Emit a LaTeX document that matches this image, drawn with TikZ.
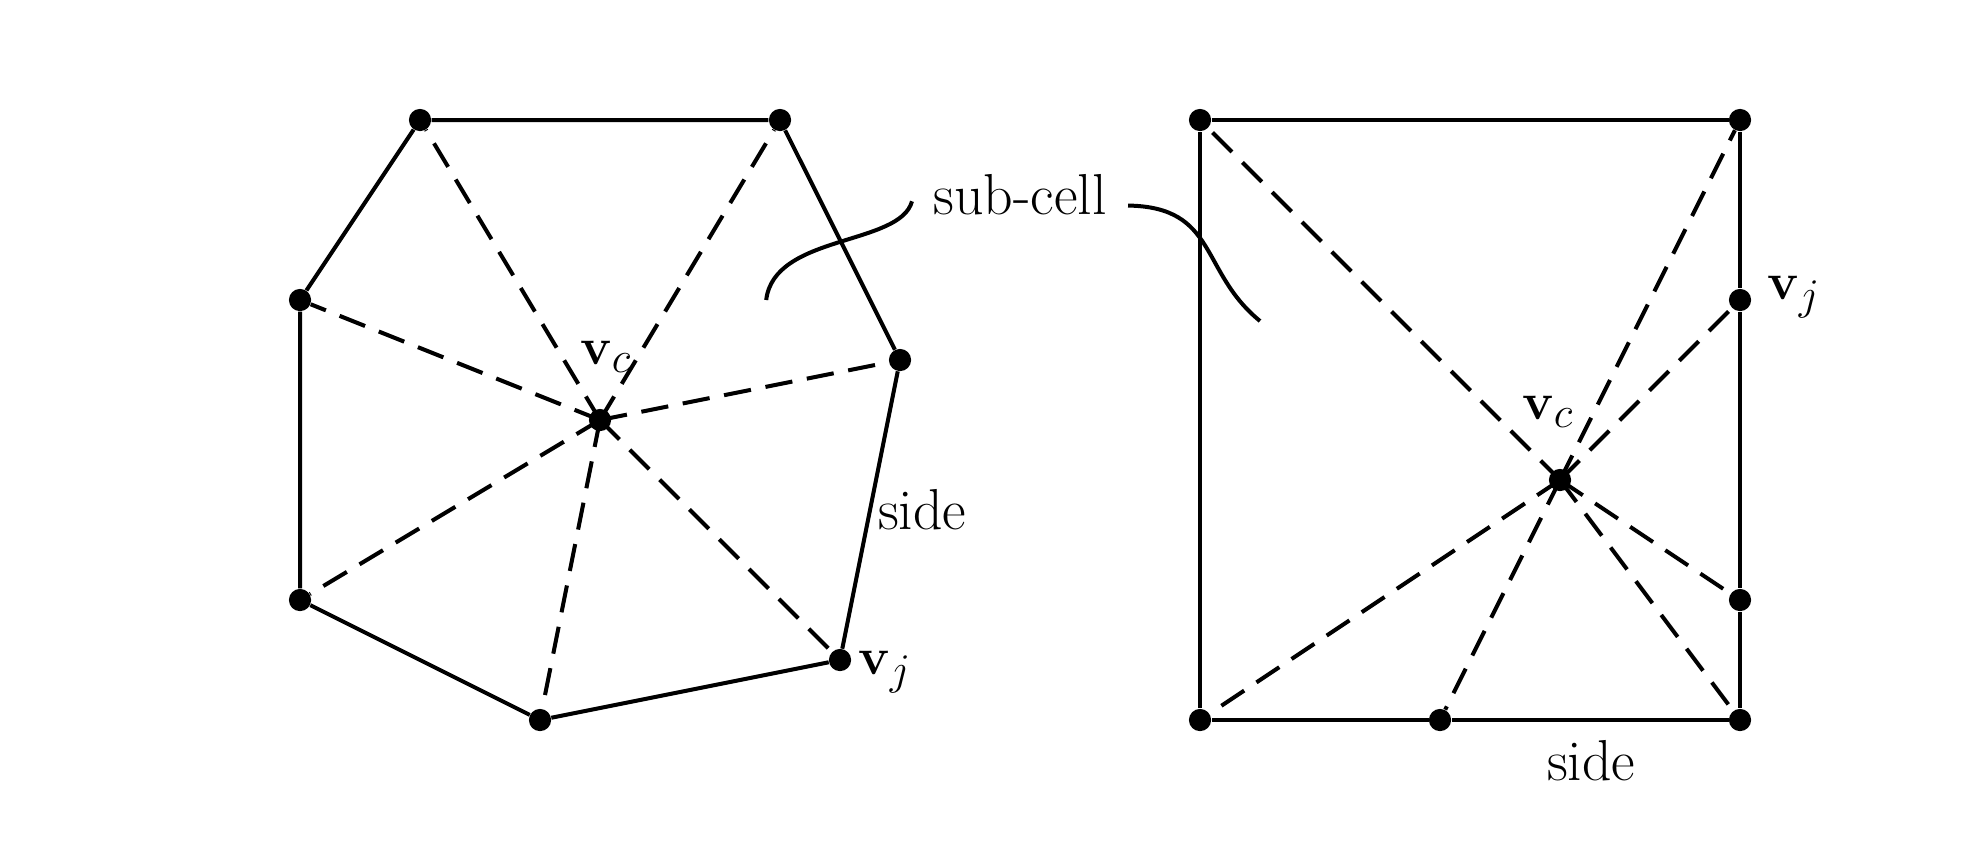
\documentclass[tikz,border=0pt]{standalone}
\begin{document}
\begin{tikzpicture}[
    pt/.style={circle, fill=black, inner sep=0pt, minimum size=0.37cm},
    edge/.style={line width=1.9pt},
    spoke/.style={line width=1.9pt, dash pattern=on 13pt off 7pt},
    big/.style={font=\fontsize{27.4}{33}\selectfont},
    lbl/.style={big, inner sep=0pt}
]
    % Bounding box
    \useasboundingbox (0,0) rectangle (33,-14.4);

    % Left cell: vertices and centre
    \node[pt] (a1) at (7,-2) {};
    \node[pt] (a2) at (13,-2) {};
    \node[pt] (a3) at (15,-6) {};
    \node[pt] (a4) at (14,-11) {};
    \node[pt] (a5) at (9,-12) {};
    \node[pt] (a6) at (5,-10) {};
    \node[pt] (a7) at (5,-5) {};
    \node[pt] (cL) at (10,-7) {};

    % Left cell: sides
    \draw[edge] (a1) -- (a2) -- (a3) -- (a4) -- (a5) -- (a6) -- (a7) -- (a1);

    % Left cell: sub-cell boundaries
    \foreach \i in {1,...,7} {
        \draw[spoke] (cL.center) -- (a\i);
    }

    % Right cell: vertices and centre
    \node[pt] (b1) at (20,-2) {};
    \node[pt] (b2) at (29,-2) {};
    \node[pt] (b3) at (29,-5) {};
    \node[pt] (b4) at (29,-10) {};
    \node[pt] (b5) at (29,-12) {};
    \node[pt] (b6) at (24,-12) {};
    \node[pt] (b7) at (20,-12) {};
    \node[pt] (cR) at (26,-8) {};

    % Right cell: sides
    \draw[edge] (b1) -- (b2) -- (b3) -- (b4) -- (b5) -- (b6) -- (b7) -- (b1);

    % Right cell: sub-cell boundaries
    \foreach \i in {1,...,7} {
        \draw[spoke] (cR.center) -- (b\i);
    }

    % Labels
    \node[lbl] (vcL) at (10.1,-5.95) {$\mathbf{v}_c$};
    \node[lbl] (vjL) at (14.75,-11.2) {$\mathbf{v}_j$};
    \node[lbl] (sideL) at (15.37,-8.5) {side};
    \node[lbl] (vcR) at (25.8,-6.87) {$\mathbf{v}_c$};
    \node[lbl] (vjR) at (29.9,-4.95) {$\mathbf{v}_j$};
    \node[lbl] (sideR) at (26.52,-12.67) {side};

    % Sub-cell callout
    \node[big, inner sep=10pt] (sub) at (17,-3.25) {sub-cell};
    \coordinate (sL) at (12.77,-5.0);
    \coordinate (sR) at (21,-5.35);
    \draw[edge] ([yshift=-3pt]sub.west) .. controls (15.0,-4.1) and (12.9,-3.9) .. (sL);
    \draw[edge] ([yshift=-5pt]sub.east) .. controls (20.3,-3.45) and (19.99,-4.53) .. (sR);
\end{tikzpicture}
\end{document}
